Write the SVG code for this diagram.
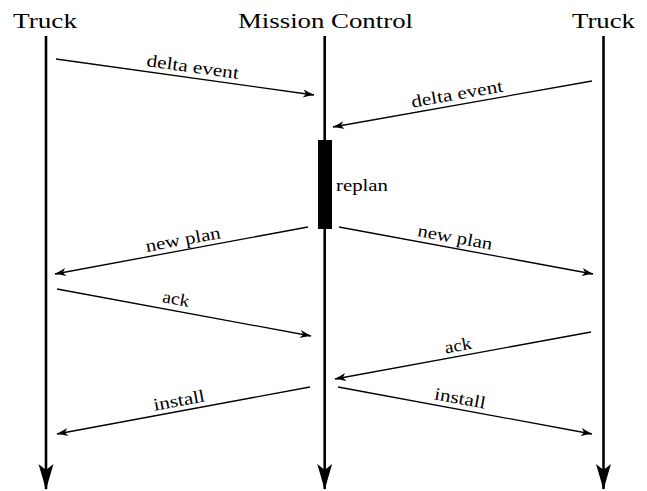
<svg xmlns="http://www.w3.org/2000/svg" width="647" height="491" viewBox="0 0 647 491">
<style>
.title{font-family:"Liberation Serif","DejaVu Serif",serif;font-size:22px;text-anchor:middle;fill:#000}
.lbl{font-family:"Liberation Serif","DejaVu Serif",serif;font-size:17.5px;text-anchor:middle;fill:#000}
.life{stroke:#000;stroke-width:2.6;fill:none;marker-end:url(#bigHead)}
.msg{stroke:#000;stroke-width:1.3;fill:none;marker-end:url(#smallHead)}
</style>
<defs>
<marker id="bigHead" markerUnits="userSpaceOnUse" orient="auto" markerWidth="30" markerHeight="20" refX="0" refY="0" viewBox="-26 -10 28 20" overflow="visible">
<path d="M1,0 Q-10,-3 -25,-7.5 L-19,0 L-25,7.5 Q-10,3 1,0 Z" fill="#000"/>
</marker>
<marker id="smallHead" markerUnits="userSpaceOnUse" orient="auto" markerWidth="14" markerHeight="10" refX="0" refY="0" viewBox="-12 -5 13 10" overflow="visible">
<path d="M0.5,0 Q-5,-1.6 -11,-4 L-8,0 L-11,4 Q-5,1.6 0.5,0 Z" fill="#000"/>
</marker>
</defs>

<g id="truck-left">
<text class="title" x="45" y="28" textLength="64" lengthAdjust="spacingAndGlyphs">Truck</text>
<line class="life" x1="46" y1="36" x2="46" y2="489"/>
</g>

<g id="mission-control">
<text class="title" x="325.5" y="28" textLength="175" lengthAdjust="spacingAndGlyphs">Mission Control</text>
<line class="life" x1="324.7" y1="36" x2="324.7" y2="489"/>
<rect id="replan-box" x="318" y="140" width="14" height="89" fill="#000"/>
<text class="lbl" x="336" y="191" style="text-anchor:start" textLength="52" lengthAdjust="spacingAndGlyphs">replan</text>
</g>

<g id="truck-right">
<text class="title" x="603.5" y="28" textLength="63" lengthAdjust="spacingAndGlyphs">Truck</text>
<line class="life" x1="603.5" y1="36" x2="603.5" y2="489"/>
</g>

<g id="connectors">
<line class="msg" x1="56" y1="59" x2="314" y2="95"/>
<text class="lbl" x="192" y="72.5" transform="rotate(7.94 192 72.5)" textLength="93" lengthAdjust="spacingAndGlyphs">delta event</text>

<line class="msg" x1="592" y1="81" x2="333" y2="127"/>
<text class="lbl" x="458" y="99.5" transform="rotate(-10.07 458 99.5)" textLength="93" lengthAdjust="spacingAndGlyphs">delta event</text>

<line class="msg" x1="308" y1="227" x2="55" y2="274"/>
<text class="lbl" x="184" y="245" transform="rotate(-10.52 184 245)" textLength="76" lengthAdjust="spacingAndGlyphs">new plan</text>

<line class="msg" x1="339" y1="227" x2="593" y2="274"/>
<text class="lbl" x="454" y="243" transform="rotate(10.48 454 243)" textLength="76" lengthAdjust="spacingAndGlyphs">new plan</text>

<line class="msg" x1="57" y1="289" x2="311" y2="336"/>
<text class="lbl" x="175" y="304.5" transform="rotate(10.48 175 304.5)" textLength="27" lengthAdjust="spacingAndGlyphs">ack</text>

<line class="msg" x1="591" y1="332" x2="335" y2="379"/>
<text class="lbl" x="459" y="351" transform="rotate(-10.4 459 351)" textLength="27" lengthAdjust="spacingAndGlyphs">ack</text>

<line class="msg" x1="310" y1="387" x2="57" y2="434"/>
<text class="lbl" x="180" y="406" transform="rotate(-10.5 180 406)" textLength="52" lengthAdjust="spacingAndGlyphs">install</text>

<line class="msg" x1="338" y1="387" x2="592" y2="434"/>
<text class="lbl" x="459" y="404" transform="rotate(10.5 459 404)" textLength="52" lengthAdjust="spacingAndGlyphs">install</text>
</g>
</svg>
